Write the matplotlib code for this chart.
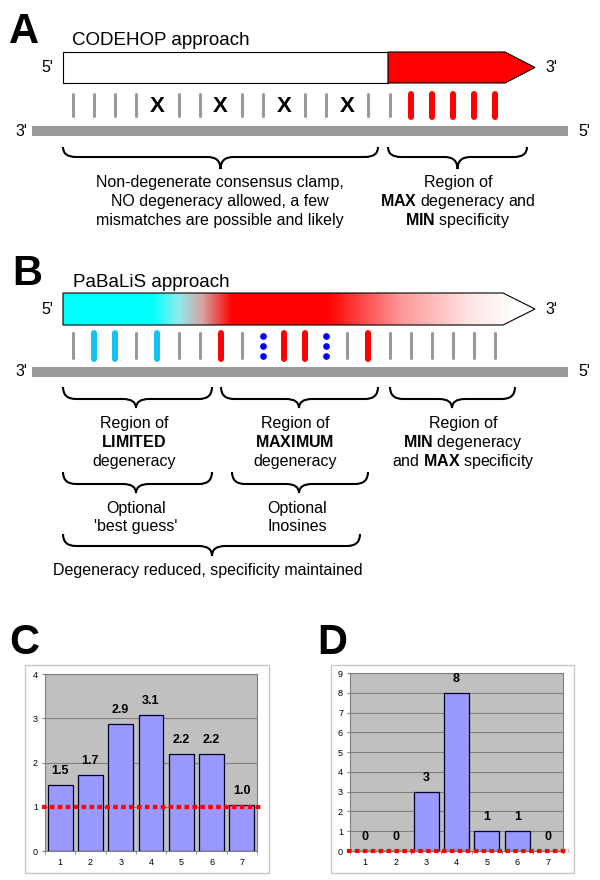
import numpy as np
import matplotlib
matplotlib.use('Agg')
import matplotlib.pyplot as plt
from matplotlib.patches import Rectangle, Polygon, PathPatch
from matplotlib.path import Path

plt.rcParams['font.family'] = ['Liberation Sans', 'DejaVu Sans']
plt.rcParams['mathtext.fontset'] = 'custom'
plt.rcParams['mathtext.rm'] = 'Liberation Sans'
plt.rcParams['mathtext.bf'] = 'Liberation Sans:bold'

# base positions along the primer: g=gray match, x=mismatch, r=red, c=cyan, d=inosine dots
codehop_sites = ['g', 'g', 'g', 'g', 'x', 'g', 'g', 'x', 'g', 'g', 'x',
                 'g', 'g', 'x', 'g', 'g', 'r', 'r', 'r', 'r', 'r']
pabalis_sites = ['g', 'c', 'c', 'g', 'c', 'g', 'g', 'r', 'g', 'd', 'r',
                 'r', 'd', 'g', 'r', 'g', 'g', 'g', 'g', 'g', 'g']

# bar charts C and D
positions = [1, 2, 3, 4, 5, 6, 7]
fold_change = [1.5, 1.72, 2.87, 3.07, 2.2, 2.2, 1.04]
fold_labels = ['1.5', '1.7', '2.9', '3.1', '2.2', '2.2', '1.0']
counts = [0, 0, 3, 8, 1, 1, 0]
count_labels = ['0', '0', '3', '8', '1', '1', '0']

GRAY = '#999999'
RED = '#FF0000'
CYAN = '#12C3F2'

fig = plt.figure(figsize=(6, 8.8), dpi=100)
ax = fig.add_axes([0, 0, 1, 1])
ax.set_axis_off()


def brace(x0, x1, ytop, yflat, ytip, xm=None, r=13):
    if xm is None:
        xm = (x0 + x1) / 2.0
    verts = [(x0, ytop), (x0, yflat), (x0 + r, yflat),
             (xm - r, yflat), (xm, yflat), (xm, ytip),
             (xm, yflat), (xm + r, yflat),
             (x1 - r, yflat), (x1, yflat), (x1, ytop)]
    codes = [Path.MOVETO, Path.CURVE3, Path.CURVE3,
             Path.LINETO, Path.CURVE3, Path.CURVE3,
             Path.CURVE3, Path.CURVE3,
             Path.LINETO, Path.CURVE3, Path.CURVE3]
    ax.add_patch(PathPatch(Path(verts, codes), fc='none', ec='black', lw=1.5))


def site_marks(sites, y0, y1):
    for i, s in enumerate(sites):
        x = 73 + i * 21.1
        if s == 'g':
            ax.plot([x, x], [y0 + 1.5, y1 - 1.5], color=GRAY, lw=2.2,
                    solid_capstyle='round')
        elif s in ('r', 'c'):
            ax.plot([x, x], [y0 + 1, y1 - 1], color=RED if s == 'r' else CYAN,
                    lw=4.3, solid_capstyle='round')
        elif s == 'x':
            ax.text(x, (y0 + y1) / 2 + 1, 'X', ha='center', va='center',
                    fontsize=16, fontweight='bold')
        elif s == 'd':
            mid = (y0 + y1) / 2
            ax.plot([x, x, x], [mid - 10, mid, mid + 10], 'o', color='blue',
                    ms=3.8, mec='blue')


def strand(y):
    ax.add_patch(Rectangle((32, y - 5), 536, 10, fc=GRAY, ec='none'))
    ax.text(21, y, "3'", ha='center', va='center', fontsize=11.5)
    ax.text(584, y, "5'", ha='center', va='center', fontsize=11.5)


def lines(x, ys, texts, size=11.5):
    for y, t in zip(ys, texts):
        ax.text(x, y + 5, t, ha='center', va='baseline', fontsize=size)


# ---- panel A ----
ax.text(9, 43, 'A', fontsize=30, fontweight='bold', va='baseline')
ax.text(72, 45, 'CODEHOP approach', fontsize=13.5, va='baseline')
top, bot, tip = 52, 83, 535
ax.add_patch(Rectangle((63, top), 325, bot - top, fc='white', ec='black', lw=0.8))
ax.add_patch(Polygon([(388, top), (505, top), (tip, (top + bot) / 2),
                      (505, bot), (388, bot)], closed=True, fc=RED, ec='black', lw=0.8))
ax.text(47, 68, "5'", ha='center', va='center', fontsize=11.5)
ax.text(551, 68, "3'", ha='center', va='center', fontsize=11.5)
site_marks(codehop_sites, 93, 118)
strand(131.5)
brace(63, 378, 147, 157, 169)
brace(388, 527, 147, 157, 169)
lines(220, [182, 201, 220], ['Non-degenerate consensus clamp,',
                             'NO degeneracy allowed, a few',
                             'mismatches are possible and likely'])
lines(458, [182, 201, 220], ['Region of', r'$\mathbf{MAX}$ degeneracy and',
                             r'$\mathbf{MIN}$ specificity'])

# ---- panel B ----
ax.text(12, 285, 'B', fontsize=30, fontweight='bold', va='baseline')
ax.text(73, 287, 'PaBaLiS approach', fontsize=13.5, va='baseline')
top, bot = 293, 325
arrow = [(63, top), (503, top), (tip, (top + bot) / 2), (503, bot), (63, bot)]
stops = [(63, (0, 255, 255)), (152, (0, 255, 255)), (178, (140, 235, 235)),
         (202, (215, 165, 165)), (232, (255, 0, 0)), (327, (255, 0, 0)),
         (400, (255, 150, 150)), (470, (255, 228, 228)), (515, (255, 255, 255)),
         (tip, (255, 255, 255))]
gx = np.linspace(63, tip, 500)
sx = [s[0] for s in stops]
grad = np.stack([np.interp(gx, sx, [s[1][k] for s in stops]) for k in range(3)], axis=-1) / 255.0
im = ax.imshow(grad[np.newaxis, :, :], extent=(63, tip, bot, top), aspect='auto',
               interpolation='bilinear', zorder=1)
outline = Polygon(arrow, closed=True, fc='none', ec='black', lw=0.8, zorder=2)
ax.add_patch(outline)
im.set_clip_path(outline)
ax.text(47, 309, "5'", ha='center', va='center', fontsize=11.5)
ax.text(551, 309, "3'", ha='center', va='center', fontsize=11.5)
site_marks(pabalis_sites, 332, 360)
strand(372)
brace(63, 212, 387, 399, 408, xm=136)
brace(221, 378, 387, 399, 408, xm=299)
brace(390, 515, 387, 399, 408, xm=452)
lines(134, [423, 442, 461], ['Region of', r'$\mathbf{LIMITED}$', 'degeneracy'])
lines(295, [423, 442, 461], ['Region of', r'$\mathbf{MAXIMUM}$', 'degeneracy'])
lines(463, [423, 442, 461], ['Region of', r'$\mathbf{MIN}$ degeneracy',
                             r'and $\mathbf{MAX}$ specificity'])
brace(63, 212, 472, 484, 493, xm=136)
brace(232, 368, 472, 484, 493, xm=299)
lines(136, [508, 526], ['Optional', "'best guess'"])
lines(297, [508, 526], ['Optional', 'Inosines'])
brace(63, 360, 534, 546, 556, xm=212)
lines(208, [570], ['Degeneracy reduced, specificity maintained'])

# ---- panels C and D ----
ax.text(9, 654, 'C', fontsize=30, fontweight='bold', va='baseline')
ax.text(317, 654, 'D', fontsize=30, fontweight='bold', va='baseline')
ax.add_patch(Rectangle((25, 665), 244, 208, fc='none', ec='#C8C8C8', lw=1))
ax.add_patch(Rectangle((331, 665), 243, 208, fc='none', ec='#C8C8C8', lw=1))

ax.set_xlim(0, 600)
ax.set_ylim(880, 0)


def bar_panel(rect, vals, labels, ymax, ref):
    bx = fig.add_axes(rect)
    bx.set_facecolor('#C0C0C0')
    bx.bar(positions, vals, width=0.82, color='#9999FF', edgecolor='#00002A',
           lw=0.9, zorder=3)
    bx.set_xlim(0.5, 7.5)
    bx.set_ylim(0, ymax)
    bx.set_yticks(range(ymax + 1))
    bx.set_xticks(positions)
    bx.set_xticks(np.arange(0.5, 8, 1), minor=True)
    bx.yaxis.grid(True, color='#808080', lw=0.8)
    bx.set_axisbelow(True)
    bx.tick_params(axis='x', which='major', length=0, labelsize=6.5, pad=5)
    bx.tick_params(axis='x', which='minor', length=2.5, color='#808080')
    bx.tick_params(axis='y', length=2.5, color='#808080', labelsize=6.5, pad=2.5)
    for sp in bx.spines.values():
        sp.set_color('#808080')
        sp.set_linewidth(0.8)
    for x, v, s in zip(positions, vals, labels):
        bx.annotate(s, (x, v), xytext=(0, 10), textcoords='offset points',
                    ha='center', va='center', fontsize=9, fontweight='bold',
                    annotation_clip=False)
    bx.axhline(ref, xmin=-0.015, xmax=1.03, color=RED, lw=3, dashes=(1.1, 0.8),
               clip_on=False, zorder=5)
    return bx


bar_panel([45 / 600, 29 / 880, 212 / 600, 177 / 880], fold_change, fold_labels, 4, 1)
bar_panel([350 / 600, 29 / 880, 213 / 600, 178 / 880], counts, count_labels, 9, 0)

fig.savefig('out.png', dpi=100)
